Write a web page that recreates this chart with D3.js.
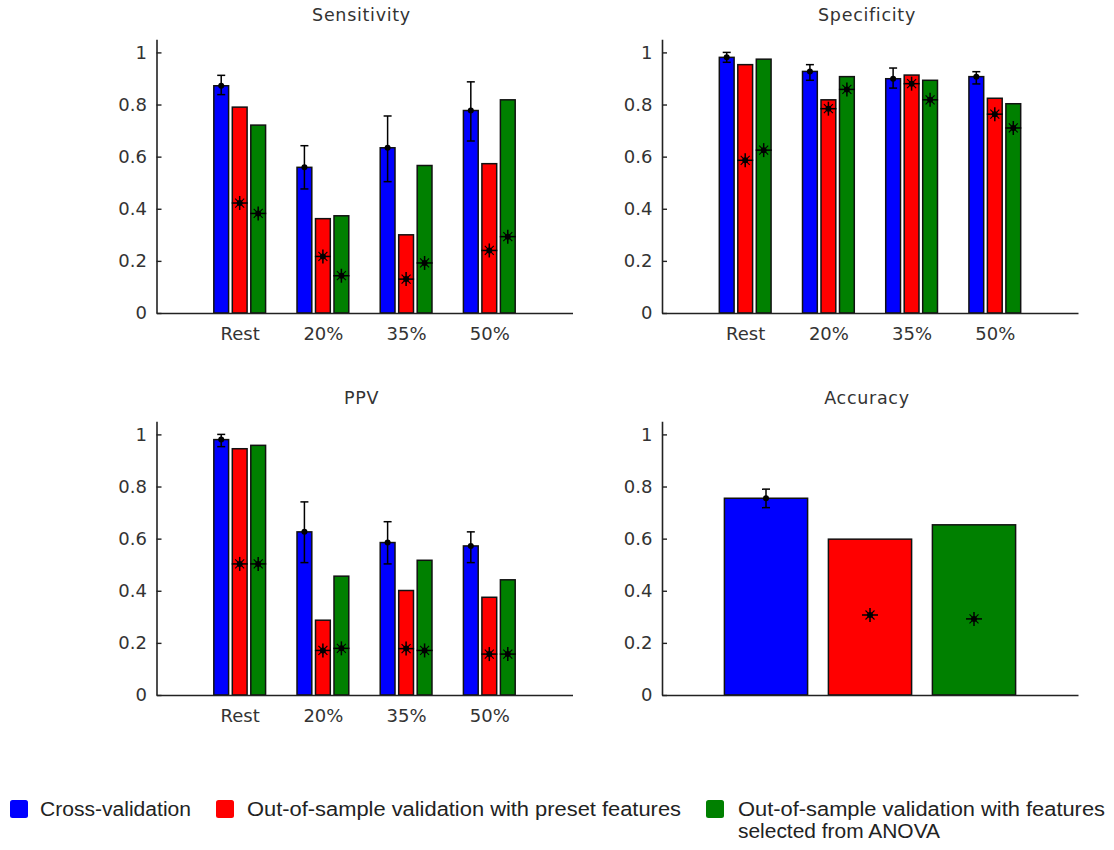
<!DOCTYPE html>
<html>
<head>
<meta charset="utf-8">
<script src="https://cdn.jsdelivr.net/npm/d3@7"></script>
<style>
  html, body { margin: 0; padding: 0; background: #fff; }
  svg { display: block; }
</style>
</head>
<body>
<svg id="chart" width="1114" height="850"></svg>
<script>
// ---------------- DATA ----------------
const categories = ["Rest", "20%", "35%", "50%"];
const seriesNames = ["Cross-validation", "Out-of-sample validation with preset features", "Out-of-sample validation with features selected from ANOVA"];
const seriesColors = ["#0000ff", "#ff0000", "#008000"];
const yTickValues = [0, 0.2, 0.4, 0.6, 0.8, 1];

// Sensitivity
const sensCV = [0.872, 0.559, 0.634, 0.777];
const sensCVLow = [0.838, 0.476, 0.504, 0.660];
const sensCVHigh = [0.912, 0.642, 0.756, 0.887];
const sensPreset = [0.790, 0.362, 0.300, 0.573];
const sensPresetStar = [0.422, 0.217, 0.130, 0.240];
const sensAnova = [0.721, 0.373, 0.566, 0.818];
const sensAnovaStar = [0.382, 0.143, 0.192, 0.293];

// Specificity
const specCV = [0.981, 0.927, 0.899, 0.907];
const specCVLow = [0.962, 0.893, 0.863, 0.879];
const specCVHigh = [1.000, 0.953, 0.940, 0.926];
const specPreset = [0.953, 0.818, 0.913, 0.824];
const specPresetStar = [0.586, 0.784, 0.880, 0.763];
const specAnova = [0.974, 0.907, 0.893, 0.803];
const specAnovaStar = [0.625, 0.858, 0.818, 0.710];

// PPV
const ppvCV = [0.980, 0.626, 0.585, 0.572];
const ppvCVLow = [0.953, 0.508, 0.503, 0.508];
const ppvCVHigh = [1.000, 0.741, 0.665, 0.626];
const ppvPreset = [0.945, 0.287, 0.401, 0.375];
const ppvPresetStar = [0.503, 0.171, 0.178, 0.157];
const ppvAnova = [0.958, 0.456, 0.517, 0.442];
const ppvAnovaStar = [0.503, 0.179, 0.171, 0.157];

// Accuracy (one value per series)
const accValues = [0.755, 0.598, 0.653];
const accCVLow = 0.719;
const accCVHigh = 0.790;
const accStars = [null, 0.307, 0.292];

// ---------------- DRAWING ----------------
const svg = d3.select("#chart");
const TEXT = "#333";
const FONT = "'DejaVu Sans', Verdana, sans-serif";

function drawStar(g, cx, cy) {
  const s = g.append("g").attr("stroke", "#000").attr("stroke-width", 1.5).attr("fill", "none");
  s.append("line").attr("x1", cx).attr("x2", cx).attr("y1", cy - 7).attr("y2", cy + 7);
  s.append("line").attr("x1", cx - 8).attr("x2", cx + 8).attr("y1", cy).attr("y2", cy);
  s.append("line").attr("x1", cx - 4.5).attr("x2", cx + 4.5).attr("y1", cy - 4.5).attr("y2", cy + 4.5).attr("stroke-width", 1.1);
  s.append("line").attr("x1", cx - 4.5).attr("x2", cx + 4.5).attr("y1", cy + 4.5).attr("y2", cy - 4.5).attr("stroke-width", 1.1);
  g.append("circle").attr("cx", cx).attr("cy", cy).attr("r", 3).attr("fill", "#000");
}

function drawErr(g, cx, ym, ylo, yhi) {
  const e = g.append("g").attr("stroke", "#000").attr("stroke-width", 1.5);
  e.append("line").attr("x1", cx).attr("x2", cx).attr("y1", ylo).attr("y2", yhi);
  e.append("line").attr("x1", cx - 4).attr("x2", cx + 4).attr("y1", ylo).attr("y2", ylo);
  e.append("line").attr("x1", cx - 4).attr("x2", cx + 4).attr("y1", yhi).attr("y2", yhi);
  g.append("circle").attr("cx", cx).attr("cy", ym).attr("r", 3).attr("fill", "#000");
}

function makeAxes(g, x, y, xTicks, xLabels, title, titleY) {
  const ya = g.append("g")
    .attr("transform", `translate(${x.range()[0]},0)`)
    .call(d3.axisLeft(y).tickValues(yTickValues).tickFormat(d3.format("~g"))
      .tickSizeInner(-5).tickSizeOuter(0).tickPadding(9.5));
  ya.select(".domain").attr("stroke", "#222").attr("stroke-width", 1.6);
  ya.selectAll(".tick line").attr("stroke", "#222").attr("stroke-width", 1.4);
  ya.selectAll(".tick text").attr("font-family", FONT).attr("font-size", 18).attr("fill", TEXT);

  const xa = g.append("g")
    .attr("transform", `translate(0,${y(0)})`)
    .call(d3.axisBottom(x).tickValues(xTicks).tickFormat((d, i) => xLabels[i] || "")
      .tickSize(0).tickPadding(14));
  xa.select(".domain").attr("stroke", "#222").attr("stroke-width", 1.6);
  xa.selectAll(".tick text").attr("font-family", FONT).attr("font-size", 18).attr("fill", TEXT);

  const r = x.range();
  g.append("text")
    .attr("x", (r[0] + r[1]) / 2 - 3).attr("y", titleY)
    .attr("text-anchor", "middle")
    .attr("font-family", FONT).attr("font-size", 17.5)
    .attr("letter-spacing", "0.7px")
    .attr("fill", TEXT).text(title);
  return xa;
}

function groupedPanel(opts) {
  const { left, base, title, titleY, cv, cvLow, cvHigh, preset, presetStar, anova, anovaStar } = opts;
  const g = svg.append("g");
  const x = d3.scaleLinear().domain([0, 5]).range([left, left + 416]);
  const y = d3.scaleLinear().domain([0, 1.05]).range([base, base - 260.6 * 1.05]);

  const nb = 3;
  const gw = Math.min(0.8, nb / (nb + 1.5));
  const bw = 0.8 * gw / nb;
  const offsets = d3.range(nb).map(i => -gw / 2 + (2 * i + 1) * gw / (2 * nb));
  const seriesVals = [cv, preset, anova];
  const stars = [null, presetStar, anovaStar];

  seriesVals.forEach((vals, s) => {
    g.append("g").selectAll("rect").data(vals).join("rect")
      .attr("x", (d, i) => x(i + 1 + offsets[s] - bw / 2))
      .attr("width", x(bw) - x(0))
      .attr("y", d => y(d))
      .attr("height", d => y(0) - y(d))
      .attr("fill", seriesColors[s])
      .attr("stroke", "#111").attr("stroke-width", 1.5);
  });

  makeAxes(g, x, y, [1, 2, 3, 4], categories, title, titleY);

  cv.forEach((d, i) => {
    drawErr(g, x(i + 1 + offsets[0]), y(d), y(cvLow[i]), y(cvHigh[i]));
  });
  [1, 2].forEach(s => {
    stars[s].forEach((d, i) => drawStar(g, x(i + 1 + offsets[s]), y(d)));
  });
}

groupedPanel({ left: 156.5, base: 313, title: "Sensitivity", titleY: 21,
  cv: sensCV, cvLow: sensCVLow, cvHigh: sensCVHigh,
  preset: sensPreset, presetStar: sensPresetStar, anova: sensAnova, anovaStar: sensAnovaStar });
groupedPanel({ left: 662, base: 313, title: "Specificity", titleY: 21,
  cv: specCV, cvLow: specCVLow, cvHigh: specCVHigh,
  preset: specPreset, presetStar: specPresetStar, anova: specAnova, anovaStar: specAnovaStar });
groupedPanel({ left: 156.5, base: 695, title: "PPV", titleY: 404,
  cv: ppvCV, cvLow: ppvCVLow, cvHigh: ppvCVHigh,
  preset: ppvPreset, presetStar: ppvPresetStar, anova: ppvAnova, anovaStar: ppvAnovaStar });

// Accuracy panel
(function () {
  const g = svg.append("g");
  const left = 662, base = 695;
  const x = d3.scaleLinear().domain([0, 4]).range([left, left + 416]);
  const y = d3.scaleLinear().domain([0, 1.05]).range([base, base - 260.6 * 1.05]);
  const bw = 0.8;
  g.append("g").selectAll("rect").data(accValues).join("rect")
    .attr("x", (d, i) => x(i + 1 - bw / 2))
    .attr("width", x(bw) - x(0))
    .attr("y", d => y(d))
    .attr("height", d => y(0) - y(d))
    .attr("fill", (d, i) => seriesColors[i])
    .attr("stroke", "#111").attr("stroke-width", 1.5);
  makeAxes(g, x, y, [], [], "Accuracy", 404);
  drawErr(g, x(1), y(accValues[0]), y(accCVLow), y(accCVHigh));
  accStars.forEach((d, i) => { if (d != null) drawStar(g, x(i + 1), y(d)); });
})();

// ---------------- LEGEND ----------------
const LFONT = "'Liberation Sans', Arial, sans-serif";
const legendItems = [
  { sq: 10, tx: 40, lines: [seriesNames[0]], widths: [151] },
  { sq: 216, tx: 247, lines: [seriesNames[1]], widths: [434] },
  { sq: 706, tx: 738, lines: ["Out-of-sample validation with features", "selected from ANOVA"], widths: [367, 202] }
];
const lg = svg.append("g");
legendItems.forEach((it, i) => {
  lg.append("rect").attr("x", it.sq).attr("y", 800).attr("width", 18).attr("height", 18)
    .attr("rx", 2.5).attr("fill", seriesColors[i]);
  it.lines.forEach((t, j) => {
    lg.append("text").attr("x", it.tx).attr("y", 816 + j * 22)
      .attr("font-family", LFONT).attr("font-size", 19.5).attr("fill", "#222")
      .attr("textLength", it.widths[j]).attr("lengthAdjust", "spacingAndGlyphs")
      .text(t);
  });
});
</script>
</body>
</html>
